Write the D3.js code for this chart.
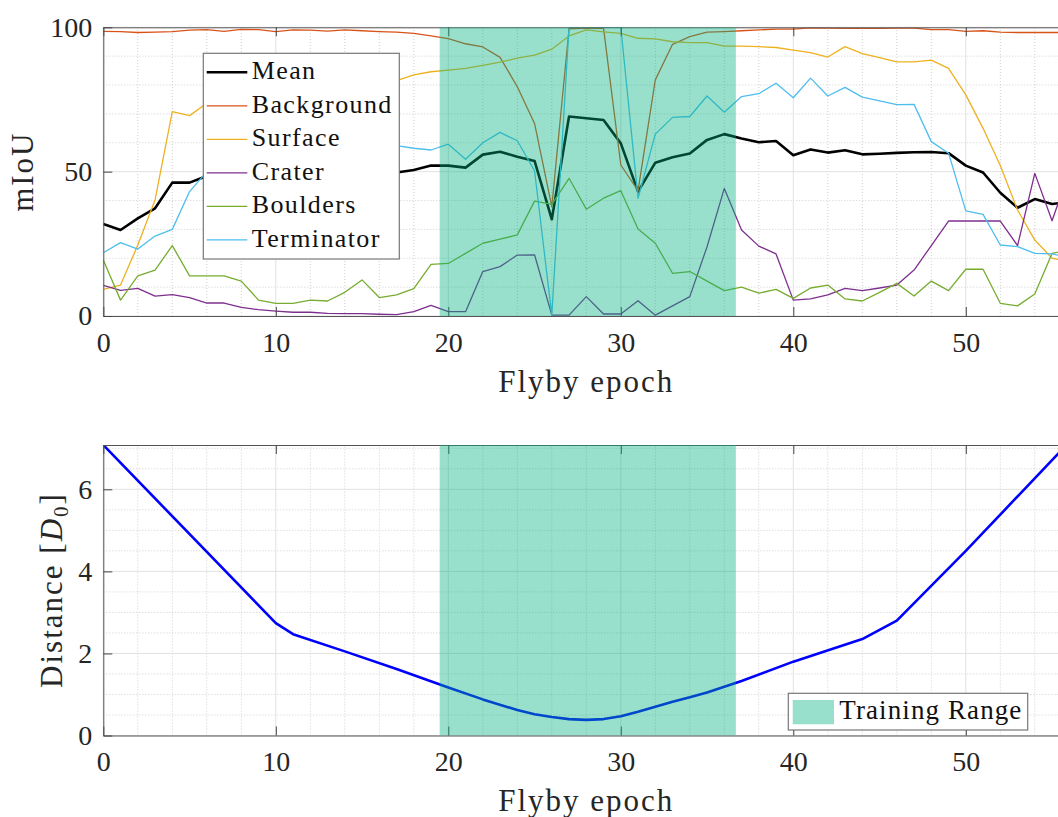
<!DOCTYPE html>
<html>
<head>
<meta charset="utf-8">
<script src="https://cdn.jsdelivr.net/npm/d3@7"></script>
<style>
  html, body { margin: 0; padding: 0; background: #fff; }
  svg { display: block; }
  svg text { font-family: "Liberation Serif", "DejaVu Serif", serif; }
  .axis text { font-size: 28px; fill: #262626; }
  .axis .domain { stroke: #555; stroke-width: 1; }
  .axis .tick line { stroke: #444; stroke-width: 1; }
  .lbl { font-size: 31px; fill: #262626; letter-spacing: 2px; }
</style>
</head>
<body>
<svg id="chart" width="1058" height="817"></svg>
<script>
// mIoU per flyby epoch (index = epoch)
const seriesNames = ["Mean", "Background", "Surface", "Crater", "Boulders", "Terminator"];
const seriesColors = ["#000000", "#D95319", "#EDB120", "#7E2F8E", "#77AC30", "#4DBEEE"];

const mean = [31.9, 29.8, 33.8, 37.3, 46.2, 46.2, 48.5, 49, 49, 49.5, 49.5, 49, 49, 49.5, 49, 49.5, 49.5,
  49.7, 50.6, 52.1, 52.1, 51.4, 55.9, 56.9, 55.2, 53.7, 33.5, 69.1, 68.5, 67.9, 59.8, 43.1, 53.1, 55.0,
  56.3, 61.0, 63.0, 61.5, 60.2, 60.6, 55.7, 57.7, 56.6, 57.4, 56.0, 56.2, 56.5, 56.7, 56.8, 56.4, 52.1,
  49.7, 42.7, 37.5, 40.5, 38.8, 39.6];
const background = [98.6, 98.5, 98.2, 98.3, 98.5, 99.0, 99.2, 98.6, 99.3, 99.2, 98.5, 99.1, 99.0, 98.7,
  99.1, 98.8, 98.5, 98.3, 97.9, 97.0, 96.1, 94.3, 93.2, 89.6, 79.4, 66.7, 37.9, 99.5, 99.7, 99.6, 52.3,
  43.4, 81.8, 94.1, 96.8, 98.3, 98.5, 98.8, 99.1, 99.4, 99.4, 99.8, 99.7, 99.6, 99.6, 99.6, 99.7, 99.7,
  99.2, 99.2, 98.6, 98.8, 98.3, 98.2, 98.2, 98.2, 98.2];
const surface = [9.2, 10.7, 24.6, 40.2, 70.8, 69.4, 73.7, 75, 76, 77, 78, 78.5, 79, 80, 80.5, 81, 82,
  81.5, 83.5, 84.6, 85.2, 85.8, 86.8, 87.9, 89.3, 90.4, 92.4, 97.0, 99.1, 98.4, 97.9, 96.2, 96.0, 95.0,
  94.7, 94.7, 93.5, 93.5, 93.3, 93.0, 92.1, 91.2, 89.7, 93.3, 90.9, 89.5, 88.0, 88.0, 88.6, 85.8, 76.6,
  65.0, 52.1, 36.7, 26.3, 20.0, 18.8];
const crater = [10.6, 8.9, 9.6, 6.9, 7.4, 6.4, 4.5, 4.5, 3.0, 2.2, 1.7, 1.3, 1.3, 0.9, 0.8, 0.8, 0.6,
  0.5, 1.5, 3.7, 1.5, 1.5, 15.4, 17.1, 21.1, 21.2, 0.3, 0.3, 6.7, 0.7, 0.7, 5.3, 0.3, 3.5, 6.7, 24.0,
  44.2, 29.8, 24.2, 21.5, 5.5, 5.9, 7.3, 9.6, 8.8, 9.7, 10.7, 15.9, 24.4, 32.9, 32.9, 32.9, 32.9, 24.4,
  49.4, 33.0, 50.0];
const boulders = [19.4, 5.5, 13.9, 15.9, 24.4, 13.9, 13.9, 13.9, 12.1, 5.5, 4.4, 4.4, 5.5, 5.2, 8.2,
  12.5, 6.4, 7.3, 9.5, 17.9, 18.2, 21.7, 25.2, 26.6, 28.1, 39.8, 38.7, 47.7, 37.0, 40.8, 43.4, 30.1,
  25.2, 14.8, 15.4, 12.1, 8.8, 10.0, 7.9, 9.2, 6.1, 9.7, 10.7, 5.9, 5.2, 8.2, 11.3, 6.9, 12.1, 8.8,
  16.2, 16.2, 4.4, 3.5, 7.6, 21.7, 22.9];
const terminator = [21.9, 25.4, 23.2, 27.7, 30.0, 43.1, 50.0, 53, 55, 56, 57, 57.5, 58, 58.5, 59, 59.5,
  59.5, 59.0, 58.1, 57.5, 59.5, 54.3, 60.0, 63.6, 60.7, 50.3, 0.3, 100, 100, 100, 100, 40.8, 63.0, 68.8,
  69.1, 76.2, 70.6, 76.0, 77.0, 80.6, 75.6, 82.4, 76.2, 79.2, 75.8, 74.5, 73.2, 73.3, 60.4, 56.4, 36.4,
  35.2, 24.6, 24.0, 21.7, 21.5, 20.3];
const seriesValues = [mean, background, surface, crater, boulders, terminator];

// distance to target along the flyby, sampled at the visible vertices
const distEpochs = [0, 10, 11, 14, 17, 20, 22, 24, 25, 26, 27, 28, 29, 30, 31, 32, 33, 34, 35, 36, 37,
  40, 44, 46, 50, 55, 56];
const distValues = [7.08, 2.74, 2.47, 2.05, 1.62, 1.17, 0.88, 0.62, 0.52, 0.45, 0.40, 0.38, 0.40, 0.47,
  0.58, 0.70, 0.82, 0.93, 1.05, 1.19, 1.33, 1.80, 2.35, 2.80, 4.50, 6.71, 7.15];

const trainingRange = [19.5, 36.67];
const xTicks = [0, 10, 20, 30, 40, 50];
const topYTicks = [0, 50, 100];
const botYTicks = [0, 2, 4, 6];

const svg = d3.select("#chart");
svg.append("rect").attr("width", 1058).attr("height", 817).attr("fill", "#fff");

const x = d3.scaleLinear().domain([0, 56]).range([103.3, 1069.3]);
const yTop = d3.scaleLinear().domain([0, 100]).range([316, 27.3]);
const yBot = d3.scaleLinear().domain([0, 7.08]).range([735.5, 445]);

function panel(id, y, yTicks, minorY, minorX) {
  const g = svg.append("g");
  const [y0, y1] = y.range();
  const [x0, x1] = x.range();
  g.append("clipPath").attr("id", id).append("rect")
    .attr("x", x0).attr("y", y1).attr("width", x1 - x0).attr("height", y0 - y1);

  // minor grid (dotted)
  const grid = g.append("g");
  grid.selectAll("line.mx").data(minorX).join("line").attr("class", "mx")
    .attr("x1", d => x(d)).attr("x2", d => x(d)).attr("y1", y0).attr("y2", y1)
    .attr("stroke", "#cfcfcf").attr("stroke-dasharray", "1,2");
  grid.selectAll("line.my").data(minorY).join("line").attr("class", "my")
    .attr("x1", x0).attr("x2", x1).attr("y1", d => y(d)).attr("y2", d => y(d))
    .attr("stroke", "#cfcfcf").attr("stroke-dasharray", "1,2");
  // major grid
  grid.selectAll("line.gx").data(xTicks).join("line").attr("class", "gx")
    .attr("x1", d => x(d)).attr("x2", d => x(d)).attr("y1", y0).attr("y2", y1)
    .attr("stroke", "#e2e2e2");
  grid.selectAll("line.gy").data(yTicks).join("line").attr("class", "gy")
    .attr("x1", x0).attr("x2", x1).attr("y1", d => y(d)).attr("y2", d => y(d))
    .attr("stroke", "#e2e2e2");

  const plot = g.append("g").attr("clip-path", `url(#${id})`);
  const axes = g.append("g");
  const over = g.append("g").attr("clip-path", `url(#${id})`);
  return { g, plot, axes, over, y0, y1, x0, x1 };
}

function drawAxes(p, y, yTicks) {
  const a1 = p.axes.append("g").attr("class", "axis").attr("transform", `translate(0,${p.y0})`)
    .call(d3.axisBottom(x).tickValues(xTicks).tickSizeInner(-9).tickSizeOuter(0).tickPadding(16));
  const a2 = p.axes.append("g").attr("class", "axis").attr("transform", `translate(0,${p.y1})`)
    .call(d3.axisTop(x).tickValues(xTicks).tickSizeInner(-9).tickSizeOuter(0).tickFormat(""));
  const a3 = p.axes.append("g").attr("class", "axis").attr("transform", `translate(${p.x0},0)`)
    .call(d3.axisLeft(y).tickValues(yTicks).tickSizeInner(-9).tickSizeOuter(0).tickPadding(11));
  [a1, a2, a3].forEach(a => a.attr("font-family", null).attr("font-size", null));
}

function shade(p) {
  p.over.append("rect")
    .attr("x", x(trainingRange[0])).attr("width", x(trainingRange[1]) - x(trainingRange[0]))
    .attr("y", p.y1).attr("height", p.y0 - p.y1)
    .attr("fill", "rgb(0,178,128)").attr("fill-opacity", 0.4);
}

// ---------- top panel: mIoU ----------
const minorTop = d3.range(10, 100, 10).filter(v => v !== 50);
const minorXs = d3.range(2, 58, 2).filter(v => v % 10 !== 0);
const topP = panel("clipTop", yTop, topYTicks, minorTop, minorXs);

seriesValues.forEach((vals, k) => {
  const line = d3.line().x((d, i) => x(i)).y(d => yTop(d));
  topP.plot.append("path").datum(vals)
    .attr("d", line)
    .attr("fill", "none")
    .attr("stroke", seriesColors[k])
    .attr("stroke-width", k === 0 ? 2.6 : 1.3)
    .attr("stroke-linejoin", "round");
});
drawAxes(topP, yTop, topYTicks);
shade(topP);

svg.append("text").attr("class", "lbl")
  .attr("x", x(28)).attr("y", 391.7).attr("text-anchor", "middle").text("Flyby epoch");
svg.append("text").attr("class", "lbl")
  .attr("transform", "translate(33,171.7) rotate(-90)").attr("text-anchor", "middle").text("mIoU");

// legend (top)
const leg = svg.append("g");
leg.append("rect").attr("x", 203.3).attr("y", 53.3).attr("width", 196).attr("height", 205.7)
  .attr("fill", "#fff").attr("stroke", "#777").attr("stroke-width", 1.2);
seriesNames.forEach((name, k) => {
  const cy = 72.3 + k * 33.5;
  leg.append("line").attr("x1", 206.7).attr("x2", 247.3).attr("y1", cy).attr("y2", cy)
    .attr("stroke", seriesColors[k]).attr("stroke-width", k === 0 ? 2.6 : 1.3);
  leg.append("text").attr("x", 251.7).attr("y", cy + 6.7)
    .attr("font-size", 26).attr("letter-spacing", 1.4).attr("fill", "#111").text(name);
});

// ---------- bottom panel: distance ----------
const minorBot = d3.range(0.5, 7.5, 0.5).filter(v => v % 2 !== 0);
const botP = panel("clipBot", yBot, botYTicks, minorBot, minorXs);
botP.plot.append("path").datum(distEpochs.map((e, i) => [e, distValues[i]]))
  .attr("d", d3.line().x(d => x(d[0])).y(d => yBot(d[1])))
  .attr("fill", "none").attr("stroke", "#0000ff").attr("stroke-width", 2.6)
  .attr("stroke-linejoin", "round");
drawAxes(botP, yBot, botYTicks);
shade(botP);

svg.append("text").attr("class", "lbl")
  .attr("x", x(28)).attr("y", 811).attr("text-anchor", "middle").text("Flyby epoch");
const dl = svg.append("text").attr("class", "lbl")
  .attr("transform", "translate(62,590) rotate(-90)").attr("text-anchor", "middle");
dl.append("tspan").text("Distance [");
dl.append("tspan").attr("font-style", "italic").text("D");
dl.append("tspan").attr("font-size", "21px").attr("dy", 6).text("0");
dl.append("tspan").attr("dy", -6).text("]");

// legend (bottom)
const leg2 = svg.append("g");
leg2.append("rect").attr("x", 788.3).attr("y", 693.3).attr("width", 239.4).attr("height", 36.7)
  .attr("fill", "#fff").attr("stroke", "#777").attr("stroke-width", 1.2);
leg2.append("rect").attr("x", 792.7).attr("y", 700).attr("width", 41.3).attr("height", 24.3)
  .attr("fill", "rgb(153,224,204)");
leg2.append("text").attr("x", 839.3).attr("y", 719).attr("font-size", 27)
  .attr("letter-spacing", 1.1).attr("fill", "#111").text("Training Range");
</script>
</body>
</html>
